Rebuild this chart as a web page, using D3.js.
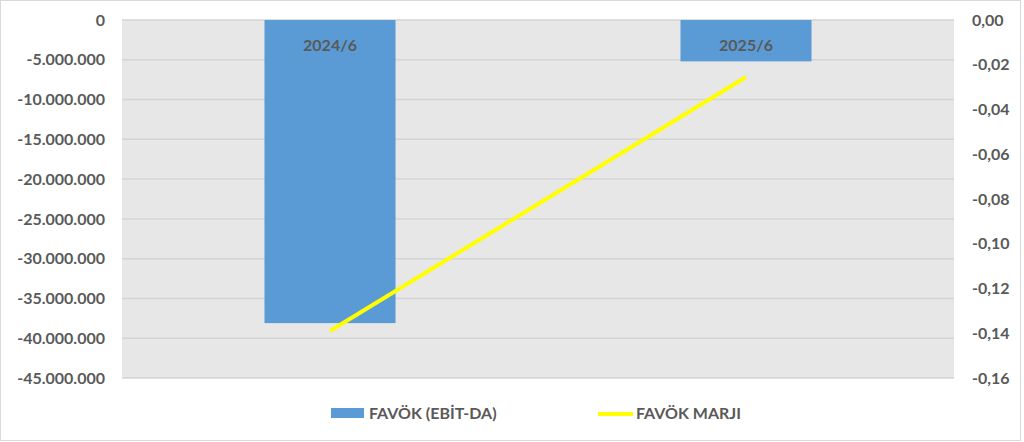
<!DOCTYPE html>
<html>
<head>
<meta charset="utf-8">
<script src="https://cdn.jsdelivr.net/npm/d3@7"></script>
<style>
  body { margin: 0; background: #fff; }
  svg text { font-family: Lato, "Open Sans", sans-serif; font-weight: bold; fill: #595959; }
</style>
</head>
<body>
<div id="chart"></div>
<script>
// values
const periods = ["2024/6", "2025/6"];
const ebitda = [-38100000, -5200000];
const margin = [-0.139, -0.0255];
const leftTicks = [0, -5000000, -10000000, -15000000, -20000000, -25000000, -30000000, -35000000, -40000000, -45000000];
const rightTicks = [0, -0.02, -0.04, -0.06, -0.08, -0.10, -0.12, -0.14, -0.16];
const seriesNames = ["FAVÖK (EBİT-DA)", "FAVÖK MARJI"];

const W = 1024, H = 442;
const m = {top: 20, right: 70, bottom: 64, left: 122};
const w = W - m.left - m.right, h = H - m.top - m.bottom;

const svg = d3.select("#chart").append("svg")
    .attr("width", W).attr("height", H);

svg.append("rect")
    .attr("x", 0.5).attr("y", 0.5)
    .attr("width", W - 4).attr("height", H - 2)
    .attr("fill", "#fff").attr("stroke", "#d9d9d9");

const g = svg.append("g").attr("transform", `translate(${m.left},${m.top})`);

const x = d3.scaleBand().domain(periods).range([0, w]).paddingInner(0.685).paddingOuter(0.3425);
const xc = d3.scalePoint().domain(periods).range([0, w]).padding(0.5);
const yL = d3.scaleLinear().domain([0, -45000000]).range([0, h]);
const yR = d3.scaleLinear().domain([0, -0.16]).range([0, h]);

g.append("rect").attr("width", w).attr("height", h).attr("fill", "#e7e7e7");

// gridlines
g.selectAll(".grid").data(leftTicks).enter().append("line")
    .attr("x1", 0).attr("x2", w)
    .attr("y1", d => yL(d)).attr("y2", d => yL(d))
    .attr("stroke", "#d4d4d4").attr("stroke-width", 1.5);

const fmtL = d => d3.format(",.0f")(d).replace(/,/g, ".").replace("−", "-");
const fmtR = d => d3.format(".2f")(d).replace(".", ",").replace("−", "-");

const axL = g.append("g").call(d3.axisLeft(yL).tickValues(leftTicks).tickFormat(fmtL).tickSize(0).tickPadding(17));
axL.select(".domain").remove();
axL.selectAll("text").style("font-size", "16px").style("font-family", "Lato, sans-serif").attr("fill", "#595959");

const axR = g.append("g").attr("transform", `translate(${w},0)`)
    .call(d3.axisRight(yR).tickValues(rightTicks).tickFormat(fmtR).tickSize(0).tickPadding(18));
axR.select(".domain").remove();
axR.selectAll("text").style("font-size", "16px").style("font-family", "Lato, sans-serif").attr("fill", "#595959");

// bars
g.selectAll(".bar").data(periods).enter().append("rect")
    .attr("x", d => x(d))
    .attr("width", x.bandwidth())
    .attr("y", 0)
    .attr("height", (d, i) => yL(ebitda[i]))
    .attr("fill", "#5b9bd5");

// category labels at the zero line
g.selectAll(".cat").data(periods).enter().append("text")
    .attr("x", d => xc(d)).attr("y", 31)
    .attr("text-anchor", "middle")
    .style("font-size", "16px")
    .text(d => d);

// margin line
const line = d3.line().x((d, i) => xc(periods[i])).y(d => yR(d));
g.append("path").datum(margin)
    .attr("d", line)
    .attr("fill", "none").attr("stroke", "#ffff00").attr("stroke-width", 4);

// legend
const lg = svg.append("g").attr("transform", "translate(0,413)");
lg.append("rect").attr("x", 331).attr("y", -5).attr("width", 33).attr("height", 10).attr("fill", "#5b9bd5");
lg.append("text").attr("x", 369).attr("y", 6).style("font-size", "16px").text(seriesNames[0]);
lg.append("line").attr("x1", 598).attr("x2", 633).attr("y1", 1).attr("y2", 1)
    .attr("stroke", "#ffff00").attr("stroke-width", 4);
lg.append("text").attr("x", 636).attr("y", 6).style("font-size", "16px").text(seriesNames[1]);
</script>
</body>
</html>
